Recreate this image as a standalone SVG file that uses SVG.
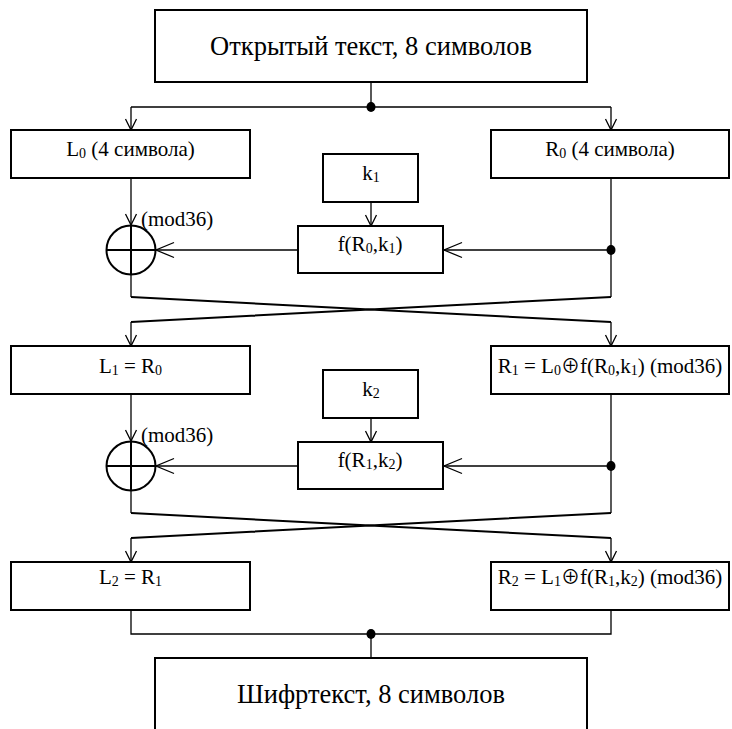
<svg xmlns="http://www.w3.org/2000/svg" width="732" height="729" viewBox="0 0 732 729" font-family="'Liberation Serif', 'Times New Roman', Tinos, 'DejaVu Serif', serif">
<style>
.box{fill:#fff;stroke:#000;stroke-width:2}
.ln{fill:none;stroke:#000;stroke-width:1.3}
.x{fill:none;stroke:#000;stroke-width:2}
.dot{fill:#000}
.t{font-size:21px;text-anchor:middle}
.big{font-size:26.5px;text-anchor:middle}
.m{font-size:21px}
.s{font-size:14px}
.op{font-family:"Noto Sans CJK SC","DejaVu Sans",sans-serif;font-size:19px}
</style>
<defs>
<marker id="av" markerUnits="userSpaceOnUse" orient="auto" overflow="visible" markerWidth="1" markerHeight="1" refX="0" refY="0"><path d="M-11,-5.5 L0,0 L-11,5.5" fill="none" stroke="#000" stroke-width="1.3"/></marker>
<marker id="ah" markerUnits="userSpaceOnUse" orient="auto" overflow="visible" markerWidth="1" markerHeight="1" refX="0" refY="0"><path d="M-18,-7.5 L0,0 L-18,7.5" fill="none" stroke="#000" stroke-width="1.3"/></marker>
</defs>
<g id="connectors">
<path class="ln" d="M371,82 V107 M131,107 H611"/>
<path class="ln" d="M131,107 V130" marker-end="url(#av)"/>
<path class="ln" d="M611,107 V130" marker-end="url(#av)"/>
<ellipse class="dot" cx="371" cy="107" rx="4.5" ry="5"/>
<path class="ln" d="M131,178 V225" marker-end="url(#av)"/>
<path class="ln" d="M371,202 V226" marker-end="url(#av)"/>
<path class="ln" d="M298,250 H156" marker-end="url(#ah)"/>
<path class="ln" d="M611,178 V297"/>
<path class="ln" d="M611,250 H444" marker-end="url(#ah)"/>
<ellipse class="dot" cx="611" cy="250" rx="4.5" ry="5"/>
<path class="ln" d="M131,274.5 V297"/>
<path class="x" d="M131,297 L611,322 M611,297 L131,322"/>
<path class="ln" d="M131,322 V346" marker-end="url(#av)"/>
<path class="ln" d="M611,322 V346" marker-end="url(#av)"/>
<path class="ln" d="M131,394 V441" marker-end="url(#av)"/>
<path class="ln" d="M371,418 V442" marker-end="url(#av)"/>
<path class="ln" d="M298,466 H156" marker-end="url(#ah)"/>
<path class="ln" d="M611,394 V513"/>
<path class="ln" d="M611,466 H444" marker-end="url(#ah)"/>
<ellipse class="dot" cx="611" cy="466" rx="4.5" ry="5"/>
<path class="ln" d="M131,490.5 V513"/>
<path class="x" d="M131,513 L611,538 M611,513 L131,538"/>
<path class="ln" d="M131,538 V562" marker-end="url(#av)"/>
<path class="ln" d="M611,538 V562" marker-end="url(#av)"/>
<path class="ln" d="M131,610 V634 H611 V610 M371,634 V658"/>
<ellipse class="dot" cx="371" cy="634" rx="4.5" ry="5"/>
</g>
<g id="plaintext">
<rect class="box" x="155" y="10" width="432" height="72"/>
<text class="big" x="371" y="55">Открытый текст, 8 символов</text>
</g>
<g id="L0">
<rect class="box" x="11" y="130" width="239" height="48"/>
<text class="t" x="130.5" y="156">L<tspan class="s" dy="2">0</tspan><tspan dy="-2"> (4 символа)</tspan></text>
</g>
<g id="R0">
<rect class="box" x="491" y="130" width="238" height="48"/>
<text class="t" x="610" y="156">R<tspan class="s" dy="2">0</tspan><tspan dy="-2"> (4 символа)</tspan></text>
</g>
<g id="k1">
<rect class="box" x="323" y="154" width="95" height="48"/>
<text class="t" x="371" y="180">k<tspan class="s" dy="2">1</tspan></text>
</g>
<g id="f1">
<rect class="box" x="298" y="226" width="145" height="47"/>
<text class="t" x="370" y="251">f(R<tspan class="s" dy="2">0</tspan><tspan dy="-2">,k</tspan><tspan class="s" dy="2">1</tspan><tspan dy="-2">)</tspan></text>
</g>
<g id="xor1">
<circle class="x" cx="131" cy="250" r="24.5"/>
<path class="x" d="M106.5,250 H155.5 M131,225.5 V274.5"/>
<text class="m" x="141" y="226">(mod36)</text>
</g>
<g id="L1">
<rect class="box" x="11" y="346" width="239" height="48"/>
<text class="t" x="130.5" y="373">L<tspan class="s" dy="2">1</tspan><tspan dy="-2"> = R</tspan><tspan class="s" dy="2">0</tspan></text>
</g>
<g id="R1">
<rect class="box" x="491" y="346" width="238" height="48"/>
<text class="t" x="610" y="373">R<tspan class="s" dy="2">1</tspan><tspan dy="-2"> = L</tspan><tspan class="s" dy="2">0</tspan><tspan class="op" dy="-2">⊕</tspan><tspan>f(R</tspan><tspan class="s" dy="2">0</tspan><tspan dy="-2">,k</tspan><tspan class="s" dy="2">1</tspan><tspan dy="-2">) (mod36)</tspan></text>
</g>
<g id="k2">
<rect class="box" x="323" y="370" width="95" height="48"/>
<text class="t" x="371" y="396">k<tspan class="s" dy="2">2</tspan></text>
</g>
<g id="f2">
<rect class="box" x="298" y="442" width="145" height="47"/>
<text class="t" x="370" y="467">f(R<tspan class="s" dy="2">1</tspan><tspan dy="-2">,k</tspan><tspan class="s" dy="2">2</tspan><tspan dy="-2">)</tspan></text>
</g>
<g id="xor2">
<circle class="x" cx="131" cy="466" r="24.5"/>
<path class="x" d="M106.5,466 H155.5 M131,441.5 V490.5"/>
<text class="m" x="141" y="442">(mod36)</text>
</g>
<g id="L2">
<rect class="box" x="11" y="562" width="239" height="48"/>
<text class="t" x="130.5" y="584">L<tspan class="s" dy="2">2</tspan><tspan dy="-2"> = R</tspan><tspan class="s" dy="2">1</tspan></text>
</g>
<g id="R2">
<rect class="box" x="491" y="562" width="238" height="48"/>
<text class="t" x="610" y="584">R<tspan class="s" dy="2">2</tspan><tspan dy="-2"> = L</tspan><tspan class="s" dy="2">1</tspan><tspan class="op" dy="-2">⊕</tspan><tspan>f(R</tspan><tspan class="s" dy="2">1</tspan><tspan dy="-2">,k</tspan><tspan class="s" dy="2">2</tspan><tspan dy="-2">) (mod36)</tspan></text>
</g>
<g id="ciphertext">
<rect class="box" x="155" y="658" width="432" height="100"/>
<text class="big" x="371" y="703">Шифртекст, 8 символов</text>
</g>
</svg>
